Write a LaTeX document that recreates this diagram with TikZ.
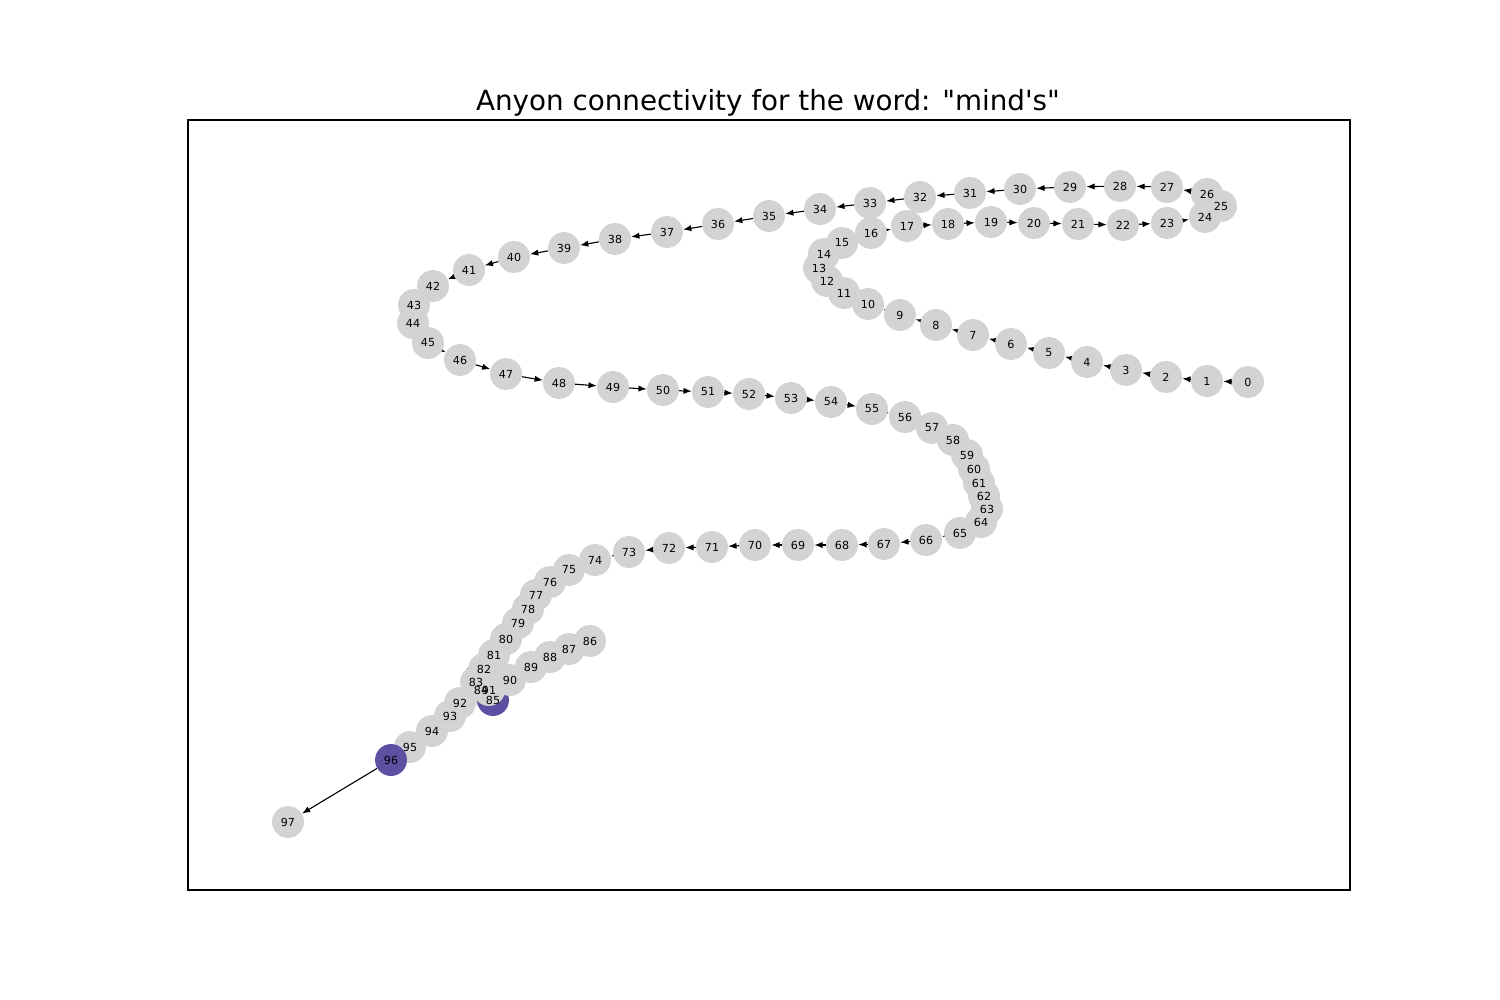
\documentclass[tikz,border=0pt]{standalone}
\usepackage{fontspec}
\setmainfont{DejaVu Sans}[Ligatures=TeXOff]
\usetikzlibrary{arrows.meta}
\pgfdeclarelayer{bg}
\pgfdeclarelayer{fg}
\pgfsetlayers{bg,main,fg}
\definecolor{nodegray}{RGB}{211,211,211}
\definecolor{anyon}{RGB}{94,79,162}
\tikzset{
  anode/.style={circle,fill=nodegray,inner sep=0pt,minimum size=23pt},
  pnode/.style={anode,fill=anyon},
  lab/.style={inner sep=0pt,font=\fontsize{8}{9}\selectfont},
  edge/.style={-{Latex[length=6pt,width=4.5pt]},line width=0.8pt,black},
}
\begin{document}
\begin{tikzpicture}[x=0.72pt,y=-0.72pt]
\useasboundingbox (0,0) rectangle (1500,1000);
\node[font=\fontsize{20}{24}\selectfont] (title) at (768,103) {Anyon connectivity for the word: "mind's"};
\draw[line width=0.8pt] (188,120) rectangle (1350,890);
\foreach \i/\x/\y/\s in {
0/1248/382/anode,1/1207/381/anode,2/1166/377/anode,3/1126/370/anode,4/1087/362/anode,5/1049/353/anode,6/1011/344/anode,7/973/335/anode,8/936/325/anode,9/900/315/anode,
10/868/304/anode,11/844/293/anode,12/827/281/anode,13/819/268/anode,14/824/254/anode,15/842/243/anode,16/871/233/anode,17/907/226/anode,18/948/224/anode,19/991/222/anode,
20/1034/223/anode,21/1078/224/anode,22/1123/225/anode,23/1167/223/anode,24/1205/217/anode,25/1221/206/anode,26/1207/194/anode,27/1167/187/anode,28/1120/186/anode,29/1070/187/anode,
30/1020/189/anode,31/970/193/anode,32/920/197/anode,33/870/203/anode,34/820/209/anode,35/769/216/anode,36/718/224/anode,37/667/232/anode,38/615/239/anode,39/564/248/anode,
40/514/257/anode,41/469/270/anode,42/433/286/anode,43/414/305/anode,44/413/323/anode,45/428/343/anode,46/460/360/anode,47/506/374/anode,48/559/383/anode,49/613/387/anode,
50/663/390/anode,51/708/392/anode,52/749/394/anode,53/791/398/anode,54/831/402/anode,55/872/409/anode,56/905/417/anode,57/932/428/anode,58/953/440/anode,59/967/455/anode,
60/974/469/anode,61/979/483/anode,62/984/496/anode,63/987/509/anode,64/981/522/anode,65/960/533/anode,66/926/540/anode,67/884/544/anode,68/842/545/anode,69/798/545/anode,
70/755/545/anode,71/712/547/anode,72/669/548/anode,73/629/552/anode,74/595/560/anode,75/569/570/anode,76/550/582/anode,77/536/595/anode,78/528/609/anode,79/518/623/anode,
80/506/639/anode,81/494/655/anode,82/484/669/anode,83/476/682/anode,84/481/690/anode,85/493/700/pnode,86/590/641/anode,87/569/649/anode,88/550/657/anode,89/531/667/anode,
90/510/680/anode,91/489/690/anode,92/460/703/anode,93/450/716/anode,94/432/731/anode,95/410/747/anode,96/391/760/pnode,97/288/822/anode}
{
  \node[\s] (n\i) at (\x,\y) {};
  \begin{pgfonlayer}{fg}
    \node[lab] (l\i) at (n\i) {\i};
  \end{pgfonlayer}
}
\begin{pgfonlayer}{bg}
\foreach \i [evaluate=\i as \j using int(\i+1)] in {0,...,96}
  \draw[edge] (n\i) -- (n\j);
\end{pgfonlayer}
\end{tikzpicture}
\end{document}
